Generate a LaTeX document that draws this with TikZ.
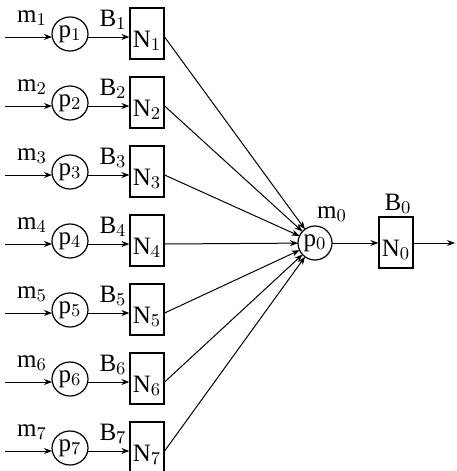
\documentclass[tikz,border=0pt]{standalone}
\usepackage{fontspec}
\setmainfont{Liberation Serif}
\usetikzlibrary{arrows.meta,shapes.geometric}

\tikzset{
  >={Stealth[length=4pt,width=3pt]},
  pnode/.style={draw,line width=0.6pt,ellipse,inner sep=0pt,outer sep=0pt,minimum width=18pt,minimum height=17pt},
  nbox/.style={draw,line width=0.6pt,rectangle,inner sep=0pt,minimum width=17pt,anchor=base,
    text height=19.5pt,text depth=6pt},
  link/.style={->,line width=0.5pt}
}

\begin{document}
\begin{tikzpicture}[x=0.5pt,y=-0.5pt]
  \tikzstyle{every node}=[font=\fontsize{12.5}{14}\selectfont]
  \useasboundingbox (0,0) rectangle (456,471);

  % row 1
  \coordinate (in1) at (5,37);
  \node [pnode] (p1) at (70,34) {p$_1$};
  \node [nbox] (N1) at (147,47) {N$_1$};
  \node (m1) at (32,18) {m$_1$};
  \node (B1) at (113,20) {B$_1$};
  % row 2
  \coordinate (in2) at (5,106);
  \node [pnode] (p2) at (70,103) {p$_2$};
  \node [nbox] (N2) at (147,116) {N$_2$};
  \node (m2) at (32,87) {m$_2$};
  \node (B2) at (113,89) {B$_2$};
  % row 3
  \coordinate (in3) at (5,175);
  \node [pnode] (p3) at (70,172) {p$_3$};
  \node [nbox] (N3) at (147,185) {N$_3$};
  \node (m3) at (32,156) {m$_3$};
  \node (B3) at (113,158) {B$_3$};
  % row 4
  \coordinate (in4) at (5,244);
  \node [pnode] (p4) at (70,241) {p$_4$};
  \node [nbox] (N4) at (147,254) {N$_4$};
  \node (m4) at (32,225) {m$_4$};
  \node (B4) at (113,227) {B$_4$};
  % row 5
  \coordinate (in5) at (5,313);
  \node [pnode] (p5) at (70,310) {p$_5$};
  \node [nbox] (N5) at (147,323) {N$_5$};
  \node (m5) at (32,294) {m$_5$};
  \node (B5) at (113,296) {B$_5$};
  % row 6
  \coordinate (in6) at (5,382);
  \node [pnode] (p6) at (70,379) {p$_6$};
  \node [nbox] (N6) at (147,392) {N$_6$};
  \node (m6) at (32,363) {m$_6$};
  \node (B6) at (113,365) {B$_6$};
  % row 7
  \coordinate (in7) at (5,451);
  \node [pnode] (p7) at (70,448) {p$_7$};
  \node [nbox] (N7) at (147,461) {N$_7$};
  \node (m7) at (32,432) {m$_7$};
  \node (B7) at (113,434) {B$_7$};

  % merging station
  \node [pnode,circle,minimum size=17pt] (p0) at (315,243) {p$_0$};
  \node (m0) at (332,214) {m$_0$};
  \node [nbox] (N0) at (396,256) {N$_0$};
  \node (B0) at (398,204) {B$_0$};
  \coordinate (out) at (455,243);

  \draw [link] (in1) -- (p1.west |- in1);
  \draw [link] (p1.east |- in1) -- (N1.west |- in1);
  \draw [link] (N1.east |- in1) -- (p0);
  \draw [link] (in2) -- (p2.west |- in2);
  \draw [link] (p2.east |- in2) -- (N2.west |- in2);
  \draw [link] (N2.east |- in2) -- (p0);
  \draw [link] (in3) -- (p3.west |- in3);
  \draw [link] (p3.east |- in3) -- (N3.west |- in3);
  \draw [link] (N3.east |- in3) -- (p0);
  \draw [link] (in4) -- (p4.west |- in4);
  \draw [link] (p4.east |- in4) -- (N4.west |- in4);
  \draw [link] (N4.east |- in4) -- (p0);
  \draw [link] (in5) -- (p5.west |- in5);
  \draw [link] (p5.east |- in5) -- (N5.west |- in5);
  \draw [link] (N5.east |- in5) -- (p0);
  \draw [link] (in6) -- (p6.west |- in6);
  \draw [link] (p6.east |- in6) -- (N6.west |- in6);
  \draw [link] (N6.east |- in6) -- (p0);
  \draw [link] (in7) -- (p7.west |- in7);
  \draw [link] (p7.east |- in7) -- (N7.west |- in7);
  \draw [link] (N7.east |- in7) -- (p0);

  \draw [link] (p0) -- (N0.west |- p0);
  \draw [link] (N0.east |- p0) -- (out);
\end{tikzpicture}
\end{document}
